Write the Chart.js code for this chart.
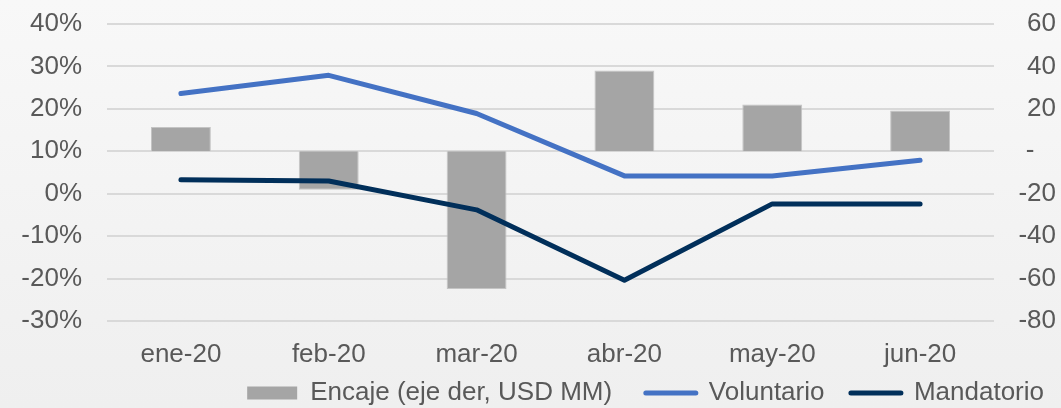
<!DOCTYPE html>
<html>
<head>
<meta charset="utf-8">
<script src="https://cdn.jsdelivr.net/npm/chart.js@4/dist/chart.umd.min.js"></script>
<style>
  html, body { margin: 0; padding: 0; }
  body { width: 1061px; height: 408px; background: linear-gradient(#f8f8f8, #efefef); overflow: hidden; }
  canvas { display: block; }
</style>
</head>
<body>
<canvas id="c" width="1061" height="408"></canvas>
<script>
const categories = ['ene-20', 'feb-20', 'mar-20', 'abr-20', 'may-20', 'jun-20'];
const encaje = [11.5, -18.1, -64.9, 38.1, 22.0, 19.2];
const voluntario = [23.6, 27.9, 18.9, 4.2, 4.2, 7.9];
const mandatorio = [3.3, 3.0, -3.8, -20.4, -2.4, -2.4];
const leftTicks = [-30, -20, -10, 0, 10, 20, 30, 40];
const rightTicks = [-80, -60, -40, -20, 0, 20, 40, 60];
const seriesLabels = ['Encaje (eje der, USD MM)', 'Voluntario', 'Mandatorio'];

const tickFont = { family: "'Liberation Sans', Arial, sans-serif", size: 26 };
const tickColor = '#595959';
const legendGaps = ['   ', '  ', ''];

new Chart(document.getElementById('c'), {
  data: {
    labels: categories,
    datasets: [
      {
        type: 'bar', label: seriesLabels[0], data: encaje, yAxisID: 'yR',
        backgroundColor: '#a5a5a5', borderColor: '#c4c4c4', borderWidth: 1,
        barPercentage: 0.405, categoryPercentage: 1, order: 2,
        pointStyle: 'rect'
      },
      {
        type: 'line', label: seriesLabels[1], data: voluntario, yAxisID: 'yL',
        borderColor: '#4472c4', backgroundColor: '#4472c4', borderWidth: 5,
        pointRadius: 0, tension: 0, borderCapStyle: 'round', borderJoinStyle: 'round',
        order: 1, pointStyle: 'line'
      },
      {
        type: 'line', label: seriesLabels[2], data: mandatorio, yAxisID: 'yL',
        borderColor: '#012f5a', backgroundColor: '#012f5a', borderWidth: 5,
        pointRadius: 0, tension: 0, borderCapStyle: 'round', borderJoinStyle: 'round',
        order: 1, pointStyle: 'line'
      }
    ]
  },
  options: {
    responsive: false,
    animation: false,
    layout: { padding: { top: 24, left: 0, right: 5, bottom: -8 } },
    plugins: {
      tooltip: { enabled: false },
      legend: {
        position: 'bottom',
        align: 'end',
        labels: {
          font: { family: "'Liberation Sans', Arial, sans-serif", size: 26 },
          color: tickColor,
          usePointStyle: true,
          pointStyleWidth: 50,
          boxHeight: 13,
          padding: 12,
          sort: (a, b) => a.datasetIndex - b.datasetIndex,
          generateLabels: (chart) => {
            const items = Chart.defaults.plugins.legend.labels.generateLabels(chart);
            items.forEach(it => {
              it.text = it.text + legendGaps[it.datasetIndex];
              if (it.datasetIndex === 0) { it.lineWidth = 0; it.strokeStyle = 'rgba(0,0,0,0)'; }
              if (it.datasetIndex > 0) { it.lineCap = 'round'; it.lineWidth = 5; }
            });
            return items;
          }
        }
      }
    },
    scales: {
      x: {
        afterFit: (s) => { s.height = 47; },
        grid: { display: false, drawTicks: false },
        border: { display: false },
        ticks: { font: tickFont, color: tickColor, padding: 18, maxRotation: 0 }
      },
      yL: {
        position: 'left',
        min: -30, max: 40,
        afterBuildTicks: (s) => { s.ticks = leftTicks.map(v => ({ value: v })); },
        afterFit: (s) => { s.width = 107; s.paddingTop = 0; s.paddingBottom = 0; },
        grid: { color: '#d9d9d9', lineWidth: 2, drawTicks: false },
        border: { display: false },
        ticks: { font: tickFont, color: tickColor, padding: 25, callback: (v) => v + '%' }
      },
      yR: {
        position: 'right',
        min: -80, max: 60,
        afterBuildTicks: (s) => { s.ticks = rightTicks.map(v => ({ value: v })); },
        afterFit: (s) => { s.width = 62; s.paddingTop = 0; s.paddingBottom = 0; },
        grid: { display: false, drawTicks: false },
        border: { display: false },
        ticks: { font: tickFont, color: tickColor, padding: 18, crossAlign: 'far',
                 callback: (v) => v === 0 ? '-   ' : String(v) }
      }
    }
  }
});
</script>
</body>
</html>
